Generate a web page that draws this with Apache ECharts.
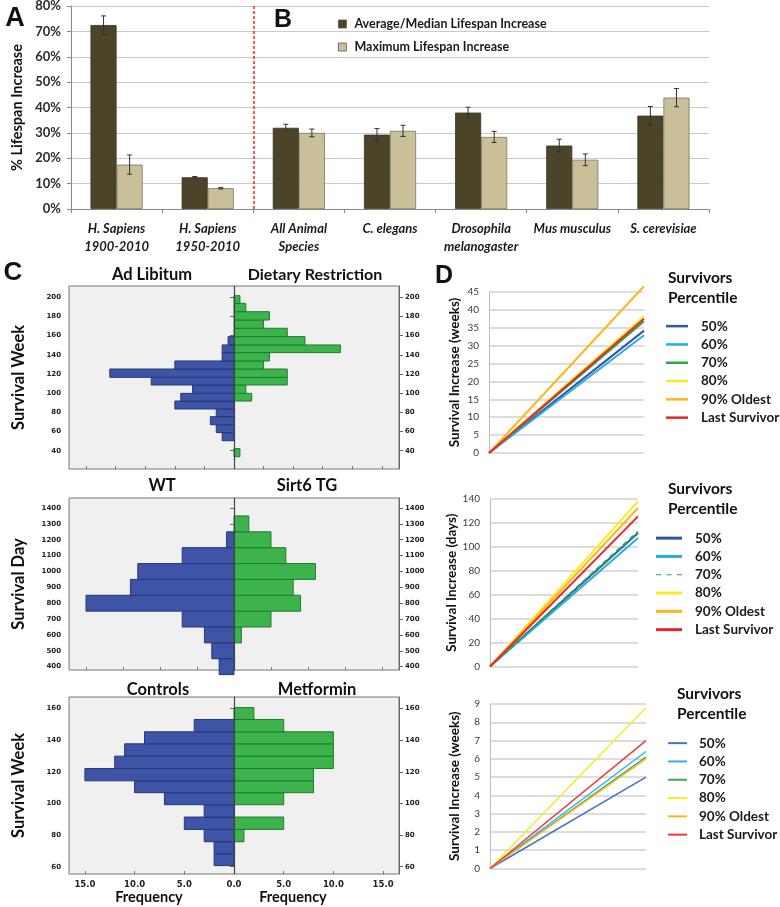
<!DOCTYPE html>
<html><head><meta charset="utf-8">
<script src="https://cdn.jsdelivr.net/npm/echarts@6/dist/echarts.min.js"></script>
<style>html,body{margin:0;padding:0;background:#fff}#c{width:780px;height:907px}</style>
</head><body><div id="c"></div>
<script>
// ---------- Panel A/B data ----------
const speciesCategories = ['H. Sapiens\n1900-2010', 'H. Sapiens\n1950-2010', 'All Animal\nSpecies', 'C. elegans', 'Drosophila\nmelanogaster', 'Mus musculus', 'S. cerevisiae'];
const avgIncrease = [72.5, 12.5, 32.0, 29.3, 38.0, 25.0, 36.8];
const avgError    = [3.6, 0.3, 1.4, 2.4, 2.1, 2.5, 3.6];
const maxIncrease = [17.5, 8.2, 30.0, 30.8, 28.4, 19.4, 43.9];
const maxError    = [3.8, 0.3, 1.5, 2.2, 2.2, 2.3, 3.6];
const separatorAfter = 2; // dashed line between human and animal groups
const seriesNamesA = ['Average/Median Lifespan Increase', 'Maximum Lifespan Increase'];

// ---------- Panel C data (bin edges ascending, counts per bin) ----------
const c1Edges = [33.7, 42.1, 50.4, 58.9, 67.1, 75.5, 83.5, 91.8, 99.8, 108.5, 116.5, 125.2, 133.6, 142.3, 150.3, 159.0, 167.7, 176.3, 185.0, 193.7, 201.7];
const c1AdLibitum = [0, 0, 2, 3, 4, 3, 10, 9, 7, 14, 21, 10, 2, 2, 1, 0, 0, 0, 0, 0];
const c1Dietary   = [1, 0, 0, 0, 0, 0, 0, 3, 2, 9, 9, 5, 6, 18, 12, 9, 5, 6, 2, 1];
const c1Ticks = [40, 60, 80, 100, 120, 140, 160, 180, 200];

const c2Edges = [350, 450, 550, 650, 750, 850, 950, 1050, 1150, 1250, 1350];
const c2WT    = [2, 3, 4, 7, 20, 14, 13, 7, 1, 0];
const c2Sirt6 = [0, 0, 1, 5, 9, 8, 11, 7, 5, 2];
const c2Ticks = [400, 500, 600, 700, 800, 900, 1000, 1100, 1200, 1300, 1400];

const c3Edges = [60.7, 68.2, 75.8, 83.6, 91.4, 99.2, 106.8, 114.3, 122.1, 129.9, 137.7, 145.3, 153.1, 160.6];
const c3Controls  = [2, 2, 3, 5, 3, 7, 10, 15, 12, 11, 9, 4, 0];
const c3Metformin = [0, 0, 1, 5, 0, 5, 8, 8, 10, 10, 10, 5, 2];
const c3Ticks = [60, 80, 100, 120, 140, 160];

// ---------- Panel D data (increase at start and end) ----------
const percentiles = ['50%', '60%', '70%', '80%', '90% Oldest', 'Last Survivor'];
const d1Weeks = [[0, 34.2], [0, 32.9], [0, 36.8], [0, 38.2], [0, 46.6], [0, 37.5]];
const d2Days  = [[0, 111.5], [0, 107.4], [0, 112.7], [0, 138.0], [0, 132.5], [0, 125.5]];
const d3Weeks = [[0, 5.0], [0, 6.4], [0, 6.1], [0, 8.8], [0, 6.0], [0, 7.0]];
const pctColors = ['#2f58a8', '#27ace3', '#2ca64c', '#fbe925', '#fdb71c', '#e8272b'];
const pctColorsD3 = ['#4472c4', '#2fb2ea', '#3aa94f', '#f7ea2a', '#fdb71c', '#ea3a3c'];

// ---------- helpers ----------
const F = 'Lato, "Noto Sans", sans-serif';
const BAR_FRAC = 0.286;
const chart = echarts.init(document.getElementById('c'), null, {renderer: 'canvas'});

const grids = [];
const xAxes = [];
const yAxes = [];
const series = [];
const legends = [];
const graphics = [];

function txt(x, y, s, size, align, extra) {
  graphics.push({type: 'text', x: x, y: y, silent: true, style: Object.assign({
    text: s, fontFamily: F, fontWeight: 'bold', fontSize: size, fill: '#111',
    textAlign: align || 'center', textVerticalAlign: 'middle'}, extra || {})});
}

// ---------- Panel A/B ----------
grids.push({left: 71, top: 6, width: 638, height: 203, outerBoundsMode: 'none'});
xAxes.push({type: 'category', gridIndex: 0, data: speciesCategories,
  axisLine: {lineStyle: {color: '#8a8a8a'}},
  axisTick: {show: true, alignWithLabel: false, length: 4, lineStyle: {color: '#8a8a8a'}},
  axisLabel: {interval: 0, fontFamily: F, fontStyle: 'italic', fontWeight: 'bold', fontSize: 13, color: '#1a1a1a', lineHeight: 18, margin: 11}
});
xAxes.push({type: 'value', gridIndex: 0, min: 0, max: speciesCategories.length, show: false});
yAxes.push({type: 'value', gridIndex: 0, min: 0, max: 80, interval: 10,
  axisLine: {show: true, lineStyle: {color: '#8a8a8a'}},
  axisTick: {show: true, length: 4, lineStyle: {color: '#8a8a8a'}},
  axisLabel: {formatter: '{value}%', fontFamily: F, fontWeight: 'bold', fontSize: 13, color: '#2a2a2a', margin: 10},
  splitLine: {show: true, lineStyle: {color: '#c9c9c9', width: 1}},
  name: '% Lifespan Increase', nameLocation: 'middle', nameGap: 44,
  nameTextStyle: {fontFamily: F, fontWeight: 'bold', fontSize: 14.5, color: '#111'}
});
series.push({type: 'bar', name: seriesNamesA[0], xAxisIndex: 0, yAxisIndex: 0, data: avgIncrease,
  barWidth: (BAR_FRAC * 100) + '%', barGap: '0%',
  itemStyle: {color: '#4b4429', borderColor: '#3a3526', borderWidth: 0.8}});
series.push({type: 'bar', name: seriesNamesA[1], xAxisIndex: 0, yAxisIndex: 0, data: maxIncrease,
  barWidth: (BAR_FRAC * 100) + '%', barGap: '0%',
  itemStyle: {color: '#c9c09a', borderColor: '#7a7660', borderWidth: 0.8}});
function errData(vals, errs, side) {
  return vals.map((v, i) => [i, v - errs[i], v + errs[i], side]);
}
function renderErr(params, api) {
  const ci = api.value(0), lo = api.value(1), hi = api.value(2), side = api.value(3);
  const catW = api.size([1, 0])[0];
  const pHi = api.coord([ci, hi]), pLo = api.coord([ci, lo]);
  const x = pHi[0] + side * catW * BAR_FRAC / 2;
  const cap = 2.5, st = {stroke: '#333', lineWidth: 1};
  return {type: 'group', children: [
    {type: 'line', shape: {x1: x, y1: pHi[1], x2: x, y2: pLo[1]}, style: st},
    {type: 'line', shape: {x1: x - cap, y1: pHi[1], x2: x + cap, y2: pHi[1]}, style: st},
    {type: 'line', shape: {x1: x - cap, y1: pLo[1], x2: x + cap, y2: pLo[1]}, style: st}
  ]};
}
series.push({type: 'custom', xAxisIndex: 0, yAxisIndex: 0, z: 5, silent: true,
  data: errData(avgIncrease, avgError, -1), encode: {x: 0, y: [1, 2]}, renderItem: renderErr});
series.push({type: 'custom', xAxisIndex: 0, yAxisIndex: 0, z: 5, silent: true,
  data: errData(maxIncrease, maxError, 1), encode: {x: 0, y: [1, 2]}, renderItem: renderErr});
const RED_DASH = {color: '#ff1f1f', type: [3, 2], width: 1.5, opacity: 1};
series.push({type: 'line', xAxisIndex: 1, yAxisIndex: 0, data: [], silent: true, color: '#ff1f1f',
  markLine: {silent: true, symbol: ['none', 'none'], label: {show: false},
    lineStyle: RED_DASH,
    data: [{xAxis: separatorAfter, lineStyle: RED_DASH}]}});
legends.push({data: seriesNamesA, orient: 'vertical', left: 333, top: 11, icon: 'rect',
  itemWidth: 8, itemHeight: 8, itemGap: 7, selectedMode: false,
  itemStyle: {borderColor: '#555', borderWidth: 0.8},
  textStyle: {fontFamily: F, fontWeight: 'bold', fontSize: 12.5, color: '#1a1a1a', lineHeight: 16, padding: [0, 0, 0, 3]}});

// ---------- Panel C ----------
function renderHist(params, api) {
  const lo = api.value(0), hi = api.value(1), v = api.value(2);
  const a = api.coord([0, lo]), b = api.coord([v, hi]);
  const fill = api.visual('color');
  return {type: 'rect', shape: {x: Math.min(a[0], b[0]), y: Math.min(a[1], b[1]),
    width: Math.abs(b[0] - a[0]), height: Math.abs(b[1] - a[1])},
    style: {fill: fill, stroke: v < 0 ? '#253875' : '#227a2e', lineWidth: 1}};
}
function histData(edges, counts, sign) {
  const out = [];
  counts.forEach((c, i) => { if (c > 0) out.push([edges[i], edges[i + 1], sign * c]); });
  return out;
}
function symTicks(step, lim) { const t = []; for (let v = -lim; v <= lim; v += step) t.push(v); return t; }

function addHist(cfg) {
  const gi = grids.length;
  grids.push({left: 69, top: cfg.top, width: 330, height: cfg.height, show: true,
    backgroundColor: '#f0f0f0', borderColor: '#777', borderWidth: 1, outerBoundsMode: 'none'});
  const xi = xAxes.length;
  xAxes.push({type: 'value', gridIndex: gi, min: -cfg.xlim, max: cfg.xlim,
    axisLine: {show: false}, splitLine: {show: false},
    axisTick: {show: true, inside: true, length: 3, customValues: symTicks(5, cfg.tickLim), lineStyle: {color: '#777'}},
    axisLabel: cfg.showX ? {show: true, customValues: symTicks(5, cfg.tickLim),
      formatter: v => Math.abs(v).toFixed(1), fontFamily: '"DejaVu Sans"', fontWeight: 'bold', fontSize: 8.5, color: '#222', margin: 6}
      : {show: false}
  });
  const yi = yAxes.length;
  const yCommon = {type: 'value', gridIndex: gi, min: cfg.ymin, max: cfg.ymax, splitLine: {show: false},
    axisLine: {show: true, lineStyle: {color: '#666'}},
    axisTick: {show: true, length: 4, customValues: cfg.ticks, lineStyle: {color: '#666'}}};
  const lab = {customValues: cfg.ticks, formatter: v => String(v), fontFamily: '"DejaVu Sans"', fontWeight: 'bold', fontSize: 7, color: '#222'};
  yAxes.push(Object.assign({}, yCommon, {position: 'left',
    axisLabel: Object.assign({}, lab, {margin: 8}),
    name: cfg.yName, nameLocation: 'middle', nameGap: 42,
    nameTextStyle: {fontFamily: F, fontWeight: 'bold', fontSize: 16.5, color: '#111'}}));
  yAxes.push(Object.assign({}, yCommon, {position: 'right',
    axisLabel: Object.assign({}, lab, {margin: 6})}));
  series.push({type: 'custom', xAxisIndex: xi, yAxisIndex: yi, silent: true, itemStyle: {color: '#3e55a7'},
    data: histData(cfg.edges, cfg.left, -1), encode: {x: 2, y: [0, 1]}, renderItem: renderHist});
  series.push({type: 'custom', xAxisIndex: xi, yAxisIndex: yi, silent: true, itemStyle: {color: '#3cb44b'},
    data: histData(cfg.edges, cfg.right, 1), encode: {x: 2, y: [0, 1]}, renderItem: renderHist});
  const CL = {color: '#444', type: 'solid', width: 1.2};
  series.push({type: 'line', xAxisIndex: xi, yAxisIndex: yi, data: [], silent: true, z: 10, color: '#444',
    markLine: {silent: true, symbol: ['none', 'none'], label: {show: false},
      lineStyle: CL, data: [{xAxis: 0, lineStyle: CL}]}});
}
addHist({top: 286, height: 183, xlim: 27.9, tickLim: 25, ymin: 20.9, ymax: 211.8, ticks: c1Ticks,
  edges: c1Edges, left: c1AdLibitum, right: c1Dietary, yName: 'Survival Week', showX: false});
addHist({top: 498, height: 172, xlim: 22.3, tickLim: 20, ymin: 379, ymax: 1463, ticks: c2Ticks,
  edges: c2Edges, left: c2WT, right: c2Sirt6, yName: 'Survival Day', showX: false});
addHist({top: 697, height: 177, xlim: 16.6, tickLim: 15, ymin: 55.4, ymax: 167.3, ticks: c3Ticks,
  edges: c3Edges, left: c3Controls, right: c3Metformin, yName: 'Survival Week', showX: true});

// ---------- Panel D ----------
function dashIcon(w) {
  // three dashes spanning the legend sample width
  const d = w / 5.2;
  return 'path://M0 0H' + d + 'V1H0Z M' + (2.1 * d) + ' 0H' + (3.1 * d) + 'V1H' + (2.1 * d) + 'Z M' + (4.2 * d) + ' 0H' + (5.2 * d) + 'V1H' + (4.2 * d) + 'Z';
}
function addLines(cfg) {
  const gi = grids.length;
  grids.push({left: cfg.left, top: cfg.top, width: cfg.width, height: cfg.height, outerBoundsMode: 'none'});
  const xi = xAxes.length;
  xAxes.push({type: 'category', gridIndex: gi, data: ['before', 'after'], boundaryGap: false,
    axisLine: {show: false}, axisTick: {show: false}, axisLabel: {show: false}, splitLine: {show: false}});
  const yi = yAxes.length;
  yAxes.push({type: 'value', gridIndex: gi, min: 0, max: cfg.max, interval: cfg.interval,
    axisLine: {show: true, lineStyle: {color: '#bdbdbd'}}, axisTick: {show: false},
    axisLabel: {fontFamily: F, fontSize: 10, color: '#3a3a3a', margin: 10},
    splitLine: {show: true, lineStyle: {color: '#d2d2d2', width: 1.5}},
    name: cfg.yName, nameLocation: 'middle', nameGap: cfg.nameGap,
    nameTextStyle: {fontFamily: F, fontWeight: 'bold', fontSize: 13.5, color: '#111'}});
  const items = [];
  cfg.data.forEach((d, i) => {
    const nm = cfg.key + '|' + percentiles[i];
    items.push({name: nm, icon: (cfg.dashed === i) ? dashIcon(cfg.legW) : 'rect'});
    series.push({type: 'line', name: nm, xAxisIndex: xi, yAxisIndex: yi, data: d,
      symbol: 'none', clip: false, silent: true, color: cfg.colors[i],
      lineStyle: {color: cfg.colors[i], width: cfg.lw, type: (cfg.dashed === i) ? [5, 4] : 'solid'}});
  });
  legends.push({data: items, orient: 'vertical', left: cfg.legLeft, top: cfg.legTop, selectedMode: false,
    itemWidth: cfg.legW, itemHeight: cfg.legH, itemGap: 0,
    formatter: n => n.split('|')[1],
    textStyle: {fontFamily: F, fontWeight: 'bold', fontSize: 13.5, color: '#1a1a1a', lineHeight: 18.3, padding: [0, 0, 0, cfg.legPad]}});
  txt(cfg.titleX, cfg.titleY, 'Survivors', 15.5, 'left');
  txt(cfg.titleX, cfg.titleY + 19.5, 'Percentile', 15.5, 'left');
}
addLines({key: 'D1', left: 489, top: 292, width: 155, height: 161, max: 45, interval: 5, data: d1Weeks,
  colors: pctColors, lw: 2, yName: 'Survival Increase (weeks)', nameGap: 27,
  legLeft: 661, legTop: 312, legW: 22, legH: 2.5, legPad: 8, titleX: 668, titleY: 278});
addLines({key: 'D2', left: 490, top: 499, width: 148, height: 167.5, max: 140, interval: 20, data: d2Days,
  colors: pctColors, lw: 2, dashed: 2, yName: 'Survival Increase (days)', nameGap: 30,
  legLeft: 651, legTop: 524, legW: 26, legH: 3, legPad: 8, titleX: 668, titleY: 489});
addLines({key: 'D3', left: 490, top: 704, width: 156, height: 164.5, max: 9, interval: 1, data: d3Weeks,
  colors: pctColorsD3, lw: 1.5, yName: 'Survival Increase (weeks)', nameGap: 28,
  legLeft: 663, legTop: 729, legW: 19, legH: 2, legPad: 7, titleX: 677, titleY: 694});

// ---------- text labels ----------
const LET = {fontFamily: '"Liberation Sans", Arial, sans-serif', fontWeight: 'bold'};
txt(15, 19, 'A', 27, 'center', LET);
txt(283, 20, 'B', 25, 'center', LET);
txt(13, 273, 'C', 26, 'center', LET);
txt(444, 276, 'D', 25, 'center', LET);
txt(152, 275, 'Ad Libitum', 16.5);
txt(315, 275, 'Dietary Restriction', 16);
txt(162, 486, 'WT', 16.5);
txt(307, 486, 'Sirt6 TG', 16.5);
txt(158, 690, 'Controls', 16.5);
txt(317, 690, 'Metformin', 16.5);
txt(149, 897, 'Frequency', 14.5);
txt(293, 897, 'Frequency', 14.5);

chart.setOption({
  animation: false,
  backgroundColor: '#ffffff',
  grid: grids, xAxis: xAxes, yAxis: yAxes, series: series, legend: legends,
  graphic: {elements: graphics}
});
</script></body></html>
